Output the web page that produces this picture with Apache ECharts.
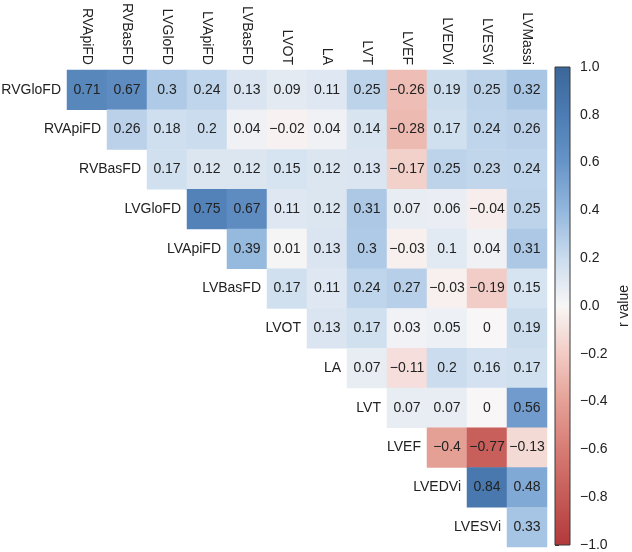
<!DOCTYPE html>
<html>
<head>
<meta charset="utf-8">
<script src="https://cdn.jsdelivr.net/npm/echarts@6/dist/echarts.min.js"></script>
<style>html,body{margin:0;padding:0;background:#fff}#c{width:632px;height:552px}</style>
</head>
<body>
<div id="c"></div>
<script>
const colLabels = ['RVApiFD','RVBasFD','LVGloFD','LVApiFD','LVBasFD','LVOT','LA','LVT','LVEF','LVEDVi','LVESVi','LVMassi'];
const rowLabels = ['RVGloFD','RVApiFD','RVBasFD','LVGloFD','LVApiFD','LVBasFD','LVOT','LA','LVT','LVEF','LVEDVi','LVESVi'];
// each row starts at the column with the same index (upper triangle)
const rowRVGloFD = [0.71, 0.67, 0.3, 0.24, 0.13, 0.09, 0.11, 0.25, -0.26, 0.19, 0.25, 0.32];
const rowRVApiFD = [0.26, 0.18, 0.2, 0.04, -0.02, 0.04, 0.14, -0.28, 0.17, 0.24, 0.26];
const rowRVBasFD = [0.17, 0.12, 0.12, 0.15, 0.12, 0.13, -0.17, 0.25, 0.23, 0.24];
const rowLVGloFD = [0.75, 0.67, 0.11, 0.12, 0.31, 0.07, 0.06, -0.04, 0.25];
const rowLVApiFD = [0.39, 0.01, 0.13, 0.3, -0.03, 0.1, 0.04, 0.31];
const rowLVBasFD = [0.17, 0.11, 0.24, 0.27, -0.03, -0.19, 0.15];
const rowLVOT = [0.13, 0.17, 0.03, 0.05, 0, 0.19];
const rowLA = [0.07, -0.11, 0.2, 0.16, 0.17];
const rowLVT = [0.07, 0.07, 0, 0.56];
const rowLVEF = [-0.4, -0.77, -0.13];
const rowLVEDVi = [0.84, 0.48];
const rowLVESVi = [0.33];
const colorbarTicks = [-1.0, -0.8, -0.6, -0.4, -0.2, 0.0, 0.2, 0.4, 0.6, 0.8, 1.0];
const cmapColors = ['#b2383b','#c55a56','#d67c74','#e5a096','#f2cbc4','#f8f6f6','#cadcee','#93b7dd','#6794c8','#4c7cb3','#3b6699'];

const rows = [rowRVGloFD,rowRVApiFD,rowRVBasFD,rowLVGloFD,rowLVApiFD,rowLVBasFD,rowLVOT,rowLA,rowLVT,rowLVEF,rowLVEDVi,rowLVESVi];
const heatData = [];
rows.forEach((vals, r) => vals.forEach((v, k) => heatData.push([r + k, r, v])));
const rowLabelData = rowLabels.map((n, i) => [i, i, n]);
const fmt = v => (v < 0 ? '\u2212' + String(-v) : String(v));
const FONT = 'Liberation Sans, Arial, Helvetica, sans-serif';

const chart = echarts.init(document.getElementById('c'), null, {renderer: 'canvas'});
chart.setOption({
  animation: false,
  backgroundColor: '#fff',
  textStyle: {fontFamily: FONT},
  grid: [
    {left: 67, top: 67, width: 480, height: 480},
    {left: 555, top: 67, width: 17, height: 480}
  ],
  xAxis: [
    {type: 'category', gridIndex: 0, data: colLabels, position: 'top',
     axisLine: {show: false}, axisTick: {show: false}, splitLine: {show: false},
     axisLabel: {rotate: 90, interval: 0, fontSize: 14, color: '#222', margin: 5, fontFamily: FONT}},
    {type: 'value', gridIndex: 1, min: 0, max: 1, show: false}
  ],
  yAxis: [
    {type: 'category', gridIndex: 0, data: rowLabels, inverse: true,
     axisLine: {show: false}, axisTick: {show: false}, axisLabel: {show: false}, splitLine: {show: false}},
    {type: 'value', gridIndex: 1, min: -1, max: 1, interval: 0.2, position: 'right',
     axisLine: {show: false}, splitLine: {show: false},
     axisTick: {show: true, length: 4, lineStyle: {color: '#333', width: 1}},
     axisLabel: {margin: 10, fontSize: 14, color: '#222', fontFamily: FONT,
       formatter: v => { const s = Math.abs(v).toFixed(1); return (v < -1e-9 ? '\u2212' : '') + s; }},
     name: 'r value', nameLocation: 'middle', nameRotate: 90, nameGap: 47,
     nameTextStyle: {fontSize: 14, color: '#222', fontFamily: FONT}}
  ],
  visualMap: {show: false, type: 'continuous', min: -1, max: 1, seriesIndex: 0,
    inRange: {color: cmapColors}},
  series: [
    {type: 'heatmap', xAxisIndex: 0, yAxisIndex: 0, data: heatData,
     label: {show: true, fontSize: 14, color: '#222', fontFamily: FONT,
       formatter: p => fmt(p.value[2])},
     itemStyle: {borderWidth: 0}},
    {type: 'custom', xAxisIndex: 0, yAxisIndex: 0, data: rowLabelData,
     renderItem: (params, api) => {
       const pt = api.coord([api.value(0), api.value(1)]);
       const sz = api.size([1, 1]);
       return {type: 'text', x: pt[0] - sz[0] / 2 - 6, y: pt[1],
         style: {text: rowLabels[params.dataIndex], align: 'right', verticalAlign: 'middle',
           fontSize: 14, fontFamily: FONT, fill: '#222'}};
     }},
    {type: 'custom', xAxisIndex: 1, yAxisIndex: 1, data: [[0, 1, -1]],
     renderItem: (params, api) => {
       const p1 = api.coord([0, api.value(1)]);
       const p2 = api.coord([1, api.value(2)]);
       const stops = cmapColors.map((c, i) => ({offset: 1 - i / (cmapColors.length - 1), color: c}))
         .sort((a, b) => a.offset - b.offset);
       return {type: 'rect', shape: {x: p1[0], y: p1[1], width: p2[0] - p1[0], height: p2[1] - p1[1]},
         style: {fill: new echarts.graphic.LinearGradient(0, 0, 0, 1, stops), stroke: '#3a3a3a', lineWidth: 1}};
     }}
  ]
});
</script>
</body>
</html>
